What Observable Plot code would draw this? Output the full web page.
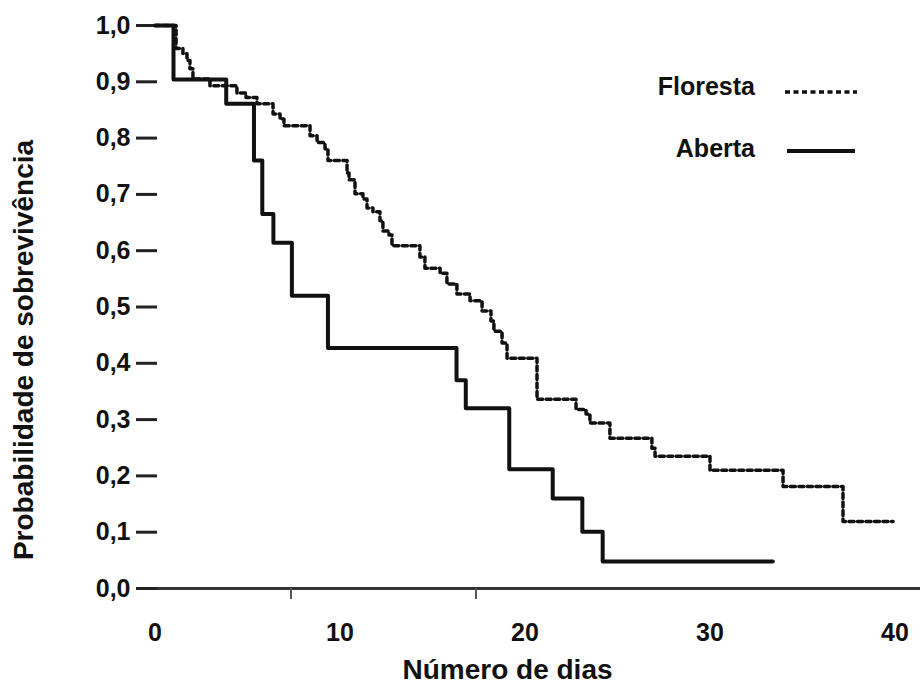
<!DOCTYPE html>
<html>
<head>
<meta charset="utf-8">
<script src="https://cdn.jsdelivr.net/npm/d3@7"></script>
<script src="https://cdn.jsdelivr.net/npm/@observablehq/plot@0.6"></script>
<style>
  html, body { margin: 0; padding: 0; background: #fff; }
</style>
</head>
<body>
<div id="chart"></div>
<script>
// ---- Data ----
const series = ["Floresta", "Aberta"];

const florestaDias = [0, 1.14, 1.51, 1.73, 1.89, 2.05, 2.97, 4.43, 4.92, 5.51, 6.38, 6.76, 6.97, 8.38, 8.76, 9.19, 9.35,
  10.38, 10.49, 10.81, 11.24, 11.46, 11.78, 12.16, 12.32, 12.65, 12.81, 14.32, 14.59, 15.41, 15.78, 16.32, 17.03,
  17.68, 18.16, 18.32, 18.76, 19.03, 20.65, 22.76, 23.3, 23.51, 24.59, 26.86, 27.03, 30.0, 33.95, 37.19, 39.9];
const florestaSobrev = [1.0, 0.959, 0.950, 0.938, 0.923, 0.905, 0.893, 0.880, 0.872, 0.861, 0.843, 0.834, 0.822, 0.804, 0.792, 0.781, 0.760,
  0.738, 0.726, 0.701, 0.692, 0.676, 0.669, 0.653, 0.635, 0.628, 0.609, 0.589, 0.569, 0.560, 0.541, 0.523, 0.511,
  0.493, 0.475, 0.457, 0.436, 0.409, 0.336, 0.318, 0.310, 0.294, 0.267, 0.249, 0.235, 0.210, 0.181, 0.119, 0.119];

const abertaDias = [0, 1.0, 3.85, 5.35, 5.8, 6.4, 7.4, 9.35, 16.3, 16.8, 19.15, 21.5, 23.1, 24.2, 33.4];
const abertaSobrev = [1.0, 0.904, 0.861, 0.760, 0.665, 0.614, 0.520, 0.427, 0.370, 0.320, 0.212, 0.160, 0.101, 0.048, 0.048];

const xTicks = [0, 10, 20, 30, 40];
const xTickMarks = [7.35, 17.35];
const yTicks = [0, 0.1, 0.2, 0.3, 0.4, 0.5, 0.6, 0.7, 0.8, 0.9, 1.0];

const floresta = florestaDias.map((d, i) => ({grupo: series[0], dia: d, s: florestaSobrev[i]}));
const aberta = abertaDias.map((d, i) => ({grupo: series[1], dia: d, s: abertaSobrev[i]}));

const FONT = "'Liberation Sans', Arial, Helvetica, sans-serif";
const W = 920, H = 686, ML = 136, MR = 0, MT = 25, MB = 98;

function legendMark(index, scales, values, dims) {
  const g = d3.create("svg:g")
    .attr("font-family", FONT).attr("font-weight", "bold").attr("font-size", 25).attr("fill", "#111");
  const rows = [
    {label: series[0], ty: 95, ly: 92, x1: 785, x2: 857, dash: "5 3.5", sw: 3.5},
    {label: series[1], ty: 157, ly: 151, x1: 787, x2: 855, dash: null, sw: 4}
  ];
  for (const r of rows) {
    g.append("text").attr("x", 755).attr("y", r.ty).attr("text-anchor", "end").text(r.label);
    const l = g.append("line").attr("x1", r.x1).attr("x2", r.x2).attr("y1", r.ly).attr("y2", r.ly)
      .attr("stroke", "#111").attr("stroke-width", r.sw);
    if (r.dash) l.attr("stroke-dasharray", r.dash);
  }
  return g.node();
}

const chart = Plot.plot({
  width: W,
  height: H,
  marginLeft: ML,
  marginRight: MR,
  marginTop: MT,
  marginBottom: MB,
  style: {fontFamily: FONT, fontWeight: "bold", fontSize: "25px", color: "#111", background: "#fff"},
  x: {domain: [-1, 41.38]},
  y: {domain: [0, 1]},
  marks: [
    Plot.ruleY([0], {stroke: "#333", strokeWidth: 3}),
    Plot.tickY(yTicks, {y: d => d, insetRight: (W - ML - MR) - 21, stroke: "#222", strokeWidth: 3}),
    Plot.axisY({ticks: yTicks, tickSize: 0, tickPadding: 6, label: null,
      tickFormat: d => d.toFixed(1).replace(".", ","), fontSize: 25, fontWeight: "bold"}),
    Plot.axisX({ticks: xTicks, tickSize: 0, tickPadding: 35, label: null, fontSize: 25, fontWeight: "bold"}),
    Plot.axisX(xTickMarks, {tickSize: 11, tickFormat: () => "", label: null, stroke: "#555", strokeWidth: 2}),
    Plot.line(floresta, {x: "dia", y: "s", curve: "step-after", stroke: "#111", strokeWidth: 3.5, strokeDasharray: "5 3.5"}),
    Plot.line(aberta, {x: "dia", y: "s", curve: "step-after", stroke: "#111", strokeWidth: 4}),
    Plot.text(["Número de dias"], {text: d => d, frameAnchor: "bottom", textAnchor: "middle", lineAnchor: "middle",
      dx: -21, dy: 82, fontSize: 28, fontWeight: "bold"}),
    Plot.text(["Probabilidade de sobrevivência"], {text: d => d, frameAnchor: "left", textAnchor: "middle", lineAnchor: "middle",
      rotate: -90, dx: -112, dy: 43, fontSize: 28, fontWeight: "bold"}),
    legendMark
  ]
});

document.getElementById("chart").appendChild(chart);
</script>
</body>
</html>
